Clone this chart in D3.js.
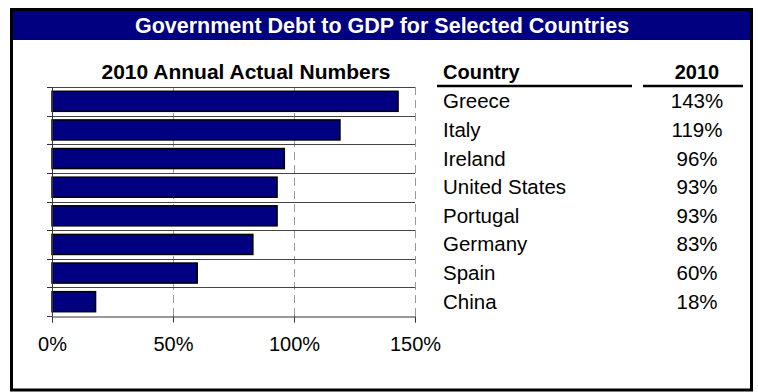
<!DOCTYPE html>
<html>
<head>
<meta charset="utf-8">
<script src="https://cdn.jsdelivr.net/npm/d3@7"></script>
<style>
html,body{margin:0;padding:0;background:#fff;}
svg{display:block;}
text{font-family:"Liberation Sans",Arial,sans-serif;}
</style>
</head>
<body>
<svg id="chart" width="758" height="392"></svg>
<script>
const title = "Government Debt to GDP for Selected Countries";
const subtitle = "2010 Annual Actual Numbers";
const countries = ["Greece","Italy","Ireland","United States","Portugal","Germany","Spain","China"];
const values = [143,119,96,93,93,83,60,18];
const ticks = [0,50,100,150];
const tableHeaders = ["Country","2010"];

const svg = d3.select("#chart");
const navy = "#000080";

// frame
svg.append("rect").attr("x",11.5).attr("y",9.5).attr("width",740).attr("height",380.5)
  .attr("fill","#fff").attr("stroke","#000").attr("stroke-width",3);
svg.append("rect").attr("x",13).attr("y",11).attr("width",737).attr("height",29).attr("fill",navy);
svg.append("text").attr("x",382).attr("y",33).attr("text-anchor","middle")
  .attr("fill","#fff").attr("font-weight","bold").attr("font-size",21.5).text(title);

// plot
const x = d3.scaleLinear().domain([0,150]).range([52,415]);
const y = d3.scaleBand().domain(countries).range([87,316]).paddingInner(0.3).paddingOuter(0.15);
const step = y.step();
const rowTop = c => y(c) - step*0.15;

svg.append("text").attr("x",246).attr("y",79).attr("text-anchor","middle")
  .attr("font-weight","bold").attr("font-size",21).text(subtitle);

// vertical dashed gridlines
svg.append("g").selectAll("line").data(ticks.filter(t=>t>0)).join("line")
  .attr("x1",d=>Math.round(x(d))+0.5).attr("x2",d=>Math.round(x(d))+0.5)
  .attr("y1",87).attr("y2",316)
  .attr("stroke","#999").attr("stroke-width",1).attr("stroke-dasharray","8,5");

// horizontal row lines
svg.append("g").selectAll("line").data(countries).join("line")
  .attr("x1",52).attr("x2",415)
  .attr("y1",d=>Math.round(rowTop(d))+0.5).attr("y2",d=>Math.round(rowTop(d))+0.5)
  .attr("stroke","#444").attr("stroke-width",1);

// bars
svg.append("g").selectAll("rect").data(countries).join("rect")
  .attr("x",x(0)).attr("y",d=>y(d))
  .attr("width",(d,i)=>x(values[i])-x(0)).attr("height",y.bandwidth())
  .attr("fill",navy).attr("stroke","#000").attr("stroke-width",1.5);

// left axis
const yAxisG = svg.append("g");
yAxisG.append("line").attr("x1",52.5).attr("x2",52.5).attr("y1",87).attr("y2",316).attr("stroke","#333");
yAxisG.selectAll("line.t").data(countries.concat(["__end"])).join("line").attr("class","t")
  .attr("x1",47).attr("x2",52)
  .attr("y1",(d,i)=>Math.round(87+i*step)+0.5).attr("y2",(d,i)=>Math.round(87+i*step)+0.5)
  .attr("stroke","#333");

// bottom axis
const xAxis = d3.axisBottom(x).tickValues(ticks).tickFormat(d=>d+"%").tickSize(6).tickPadding(14);
const gx = svg.append("g").attr("transform","translate(0,316.5)").call(xAxis);
gx.select(".domain").attr("stroke","#333");
gx.selectAll(".tick line").attr("stroke","#333");
gx.selectAll(".tick text").attr("font-size",20).attr("fill","#000")
  .attr("font-family","'Liberation Sans',Arial,sans-serif");

// table
const colX1 = 437, colX2 = 632, colX3 = 643, colX4 = 743;
svg.append("text").attr("x",443).attr("y",79).attr("font-weight","bold").attr("font-size",20).text(tableHeaders[0]);
svg.append("text").attr("x",697).attr("y",79).attr("text-anchor","middle").attr("font-weight","bold").attr("font-size",20).text(tableHeaders[1]);
svg.append("line").attr("x1",colX1).attr("x2",colX2).attr("y1",86).attr("y2",86).attr("stroke","#000").attr("stroke-width",2.5);
svg.append("line").attr("x1",colX3).attr("x2",colX4).attr("y1",86).attr("y2",86).attr("stroke","#000").attr("stroke-width",2.5);

const rows = svg.append("g").selectAll("g").data(countries).join("g")
  .attr("transform",d=>`translate(0,${y(d)+y.bandwidth()/2+7})`);
rows.append("text").attr("x",443).attr("font-size",20.5).text(d=>d);
rows.append("text").attr("x",697).attr("text-anchor","middle").attr("font-size",20.5)
  .text((d,i)=>values[i]+"%");
</script>
</body>
</html>
